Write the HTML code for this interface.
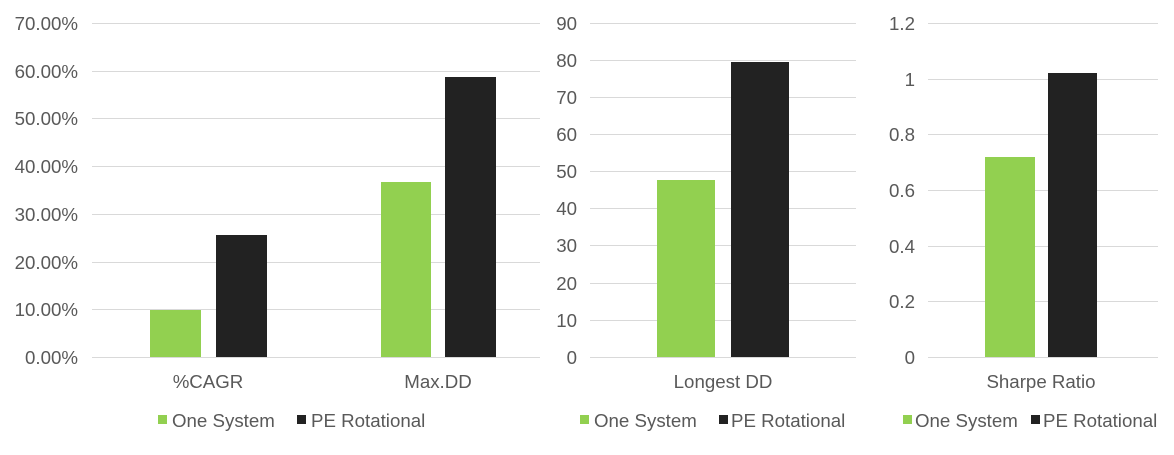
<!DOCTYPE html>
<html><head><meta charset="utf-8"><style>
body{margin:0;background:#fff;}
svg text{font-family:"Liberation Sans",Arial,sans-serif;font-size:18.7px;fill:#595959;}
</style></head><body>
<svg width="1174" height="450" viewBox="0 0 1174 450" xmlns="http://www.w3.org/2000/svg">
<g stroke="#d9d9d9" stroke-width="1">
<line x1="92" x2="540" y1="23.5" y2="23.5"/><line x1="92" x2="540" y1="71.5" y2="71.5"/><line x1="92" x2="540" y1="118.5" y2="118.5"/><line x1="92" x2="540" y1="166.5" y2="166.5"/><line x1="92" x2="540" y1="214.5" y2="214.5"/><line x1="92" x2="540" y1="262.5" y2="262.5"/><line x1="92" x2="540" y1="309.5" y2="309.5"/><line x1="92" x2="540" y1="357.5" y2="357.5"/>
<line x1="590" x2="856" y1="23.5" y2="23.5"/><line x1="590" x2="856" y1="60.5" y2="60.5"/><line x1="590" x2="856" y1="97.5" y2="97.5"/><line x1="590" x2="856" y1="134.5" y2="134.5"/><line x1="590" x2="856" y1="171.5" y2="171.5"/><line x1="590" x2="856" y1="208.5" y2="208.5"/><line x1="590" x2="856" y1="245.5" y2="245.5"/><line x1="590" x2="856" y1="283.5" y2="283.5"/><line x1="590" x2="856" y1="320.5" y2="320.5"/><line x1="590" x2="856" y1="357.5" y2="357.5"/>
<line x1="928" x2="1158" y1="23.5" y2="23.5"/><line x1="928" x2="1158" y1="79.5" y2="79.5"/><line x1="928" x2="1158" y1="134.5" y2="134.5"/><line x1="928" x2="1158" y1="190.5" y2="190.5"/><line x1="928" x2="1158" y1="246.5" y2="246.5"/><line x1="928" x2="1158" y1="301.5" y2="301.5"/><line x1="928" x2="1158" y1="357.5" y2="357.5"/>
</g>
<g text-anchor="end">
<text x="78" y="30">70.00%</text><text x="78" y="78">60.00%</text><text x="78" y="125">50.00%</text><text x="78" y="173">40.00%</text><text x="78" y="221">30.00%</text><text x="78" y="269">20.00%</text><text x="78" y="316">10.00%</text><text x="78" y="364">0.00%</text>
<text x="577" y="30">90</text><text x="577" y="67">80</text><text x="577" y="104">70</text><text x="577" y="141">60</text><text x="577" y="178">50</text><text x="577" y="215">40</text><text x="577" y="252">30</text><text x="577" y="290">20</text><text x="577" y="327">10</text><text x="577" y="364">0</text>
<text x="915" y="30">1.2</text><text x="915" y="86">1</text><text x="915" y="141">0.8</text><text x="915" y="197">0.6</text><text x="915" y="253">0.4</text><text x="915" y="308">0.2</text><text x="915" y="364">0</text>
</g>
<g fill="#92d050">
<rect x="150" y="310" width="51" height="47"/><rect x="381" y="182" width="50" height="175"/><rect x="657" y="180" width="58" height="177"/><rect x="985" y="157" width="50" height="200"/>
</g>
<g fill="#222222">
<rect x="216" y="235" width="51" height="122"/><rect x="445" y="77" width="51" height="280"/><rect x="731" y="62" width="58" height="295"/><rect x="1048" y="73" width="49" height="284"/>
</g>
<g text-anchor="middle">
<text x="208" y="388">%CAGR</text><text x="438" y="388">Max.DD</text><text x="723" y="388">Longest DD</text><text x="1041" y="388">Sharpe Ratio</text>
</g>
<rect x="158" y="415" width="9" height="9" fill="#92d050"/><text x="172" y="427">One System</text>
<rect x="297" y="415" width="9" height="9" fill="#222"/><text x="311" y="427">PE Rotational</text>
<rect x="580" y="415" width="9" height="9" fill="#92d050"/><text x="594" y="427">One System</text>
<rect x="719" y="415" width="9" height="9" fill="#222"/><text x="731" y="427">PE Rotational</text>
<rect x="903" y="415" width="9" height="9" fill="#92d050"/><text x="915" y="427">One System</text>
<rect x="1031" y="415" width="9" height="9" fill="#222"/><text x="1043" y="427">PE Rotational</text>
</svg>
</body></html>
